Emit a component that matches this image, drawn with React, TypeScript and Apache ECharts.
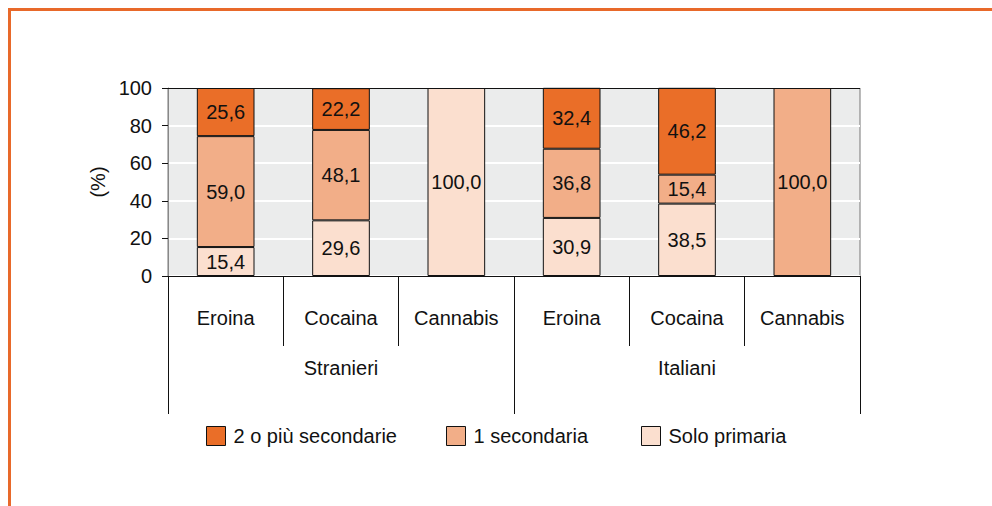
import React, { useEffect, useRef } from "react";
import * as echarts from "echarts";

const categories = ["Eroina", "Cocaina", "Cannabis", "Eroina", "Cocaina", "Cannabis"];
const groups = ["Stranieri", "Italiani"];
const soloPrimaria = [15.4, 29.6, 100.0, 30.9, 38.5, null];
const unaSecondaria = [59.0, 48.1, null, 36.8, 15.4, 100.0];
const dueOPiu = [25.6, 22.2, null, 32.4, 46.2, null];
const seriesNames = ["2 o più secondarie", "1 secondaria", "Solo primaria"];
const yTicks = [0, 20, 40, 60, 80, 100];

const FONT = "'Liberation Sans', Arial, Helvetica, sans-serif";
const C_DARK = "#EA6E28";
const C_MID = "#F2AE88";
const C_LIGHT = "#FBDFCF";

export default function App() {
  const ref = useRef<HTMLDivElement>(null);
  useEffect(() => {
    if (!ref.current) return;
    const chart = echarts.init(ref.current, null, { renderer: "svg" });
    const fmt = (p: any) => (p.value == null ? "" : Number(p.value).toFixed(1).replace(".", ","));
    const label = {
      show: true,
      position: "inside",
      color: "#111",
      fontSize: 20,
      fontFamily: FONT,
      formatter: fmt,
    };
    const mkSeries = (name: string, data: (number | null)[], color: string) => ({
      name,
      type: "bar",
      stack: "tot",
      data,
      barWidth: "50%",
      xAxisIndex: 0,
      itemStyle: { color, borderColor: "#111", borderWidth: 1 },
      label,
      clip: false,
    });
    const legendCommon = {
      top: 426,
      itemWidth: 19,
      itemHeight: 19,
      itemGap: 8,
      icon: "rect",
      textStyle: { fontSize: 20, fontFamily: FONT, color: "#111", padding: [0, 0, 0, 3] },
      itemStyle: { borderColor: "#111", borderWidth: 1 },
      padding: 0,
    };
    chart.setOption({
      animation: false,
      textStyle: { fontFamily: FONT },
      grid: {
        left: 168,
        right: 132,
        top: 88,
        bottom: 230,
        show: true,
        backgroundColor: "#EBECEC",
        borderColor: "#777",
        borderWidth: 1,
      },
      legend: [
        { ...legendCommon, left: 206, data: [seriesNames[0]] },
        { ...legendCommon, left: 446, data: [seriesNames[1]] },
        { ...legendCommon, left: 641, data: [seriesNames[2]] },
      ],
      graphic: [
        {
          type: "polyline",
          shape: { points: [[9.5, 506], [9.5, 9.5], [992, 9.5]] },
          style: { stroke: "#E8692A", lineWidth: 3, fill: "none" },
        },
        {
          type: "line",
          shape: { x1: 168, y1: 88.5, x2: 860, y2: 88.5 },
          style: { stroke: "#111", lineWidth: 1 },
          z: 10,
        },
      ],
      xAxis: [
        {
          type: "category",
          data: categories,
          position: "bottom",
          axisLine: { show: true, lineStyle: { color: "#111", width: 1 } },
          axisTick: { show: true, length: 70, lineStyle: { color: "#111" } },
          axisLabel: { margin: 32, fontSize: 20, color: "#111", fontFamily: FONT },
        },
        {
          type: "category",
          data: groups,
          position: "bottom",
          axisLine: { show: false },
          axisTick: { show: true, length: 138, lineStyle: { color: "#111" } },
          axisLabel: { margin: 82, fontSize: 20, color: "#111", fontFamily: FONT },
        },
      ],
      yAxis: {
        type: "value",
        min: yTicks[0],
        max: yTicks[yTicks.length - 1],
        interval: 20,
        name: "(%)",
        nameLocation: "middle",
        nameGap: 57,
        nameRotate: 90,
        nameTextStyle: { fontSize: 20, color: "#111", fontFamily: FONT },
        axisLine: { show: true, lineStyle: { color: "#888" } },
        axisTick: { show: true, length: 6, lineStyle: { color: "#111" } },
        axisLabel: { margin: 16, fontSize: 20, color: "#111", fontFamily: FONT },
        splitLine: { show: true, lineStyle: { color: "#FFFFFF", width: 2 } },
      },
      series: [
        mkSeries(seriesNames[2], soloPrimaria, C_LIGHT),
        mkSeries(seriesNames[1], unaSecondaria, C_MID),
        mkSeries(seriesNames[0], dueOPiu, C_DARK),
      ],
    });
    return () => chart.dispose();
  }, []);
  return (
    <div
      ref={ref}
      style={{ position: "fixed", left: 0, top: 0, width: 992, height: 506, background: "#fff" }}
    />
  );
}
